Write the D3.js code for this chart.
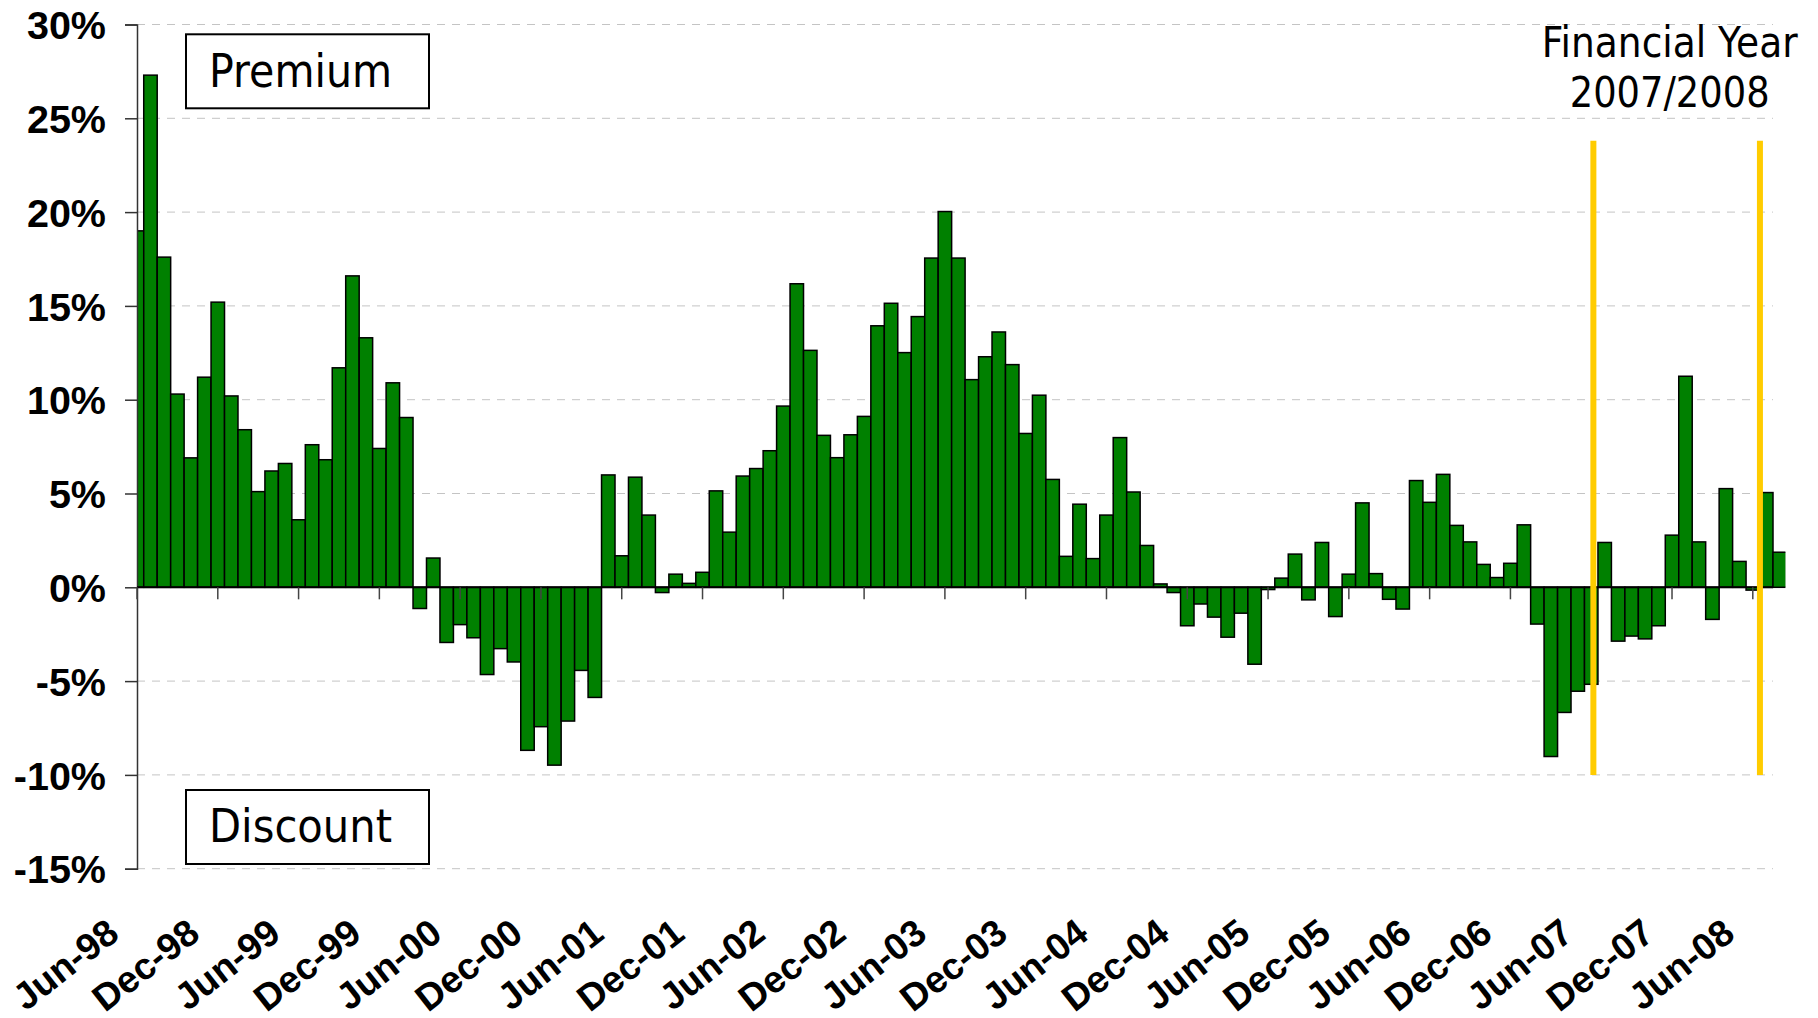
<!DOCTYPE html>
<html>
<head>
<meta charset="utf-8">
<script src="https://cdn.jsdelivr.net/npm/d3@7"></script>
<style>
    body { margin: 0; background: #fff; }
    svg { display: block; }
</style>
</head>
<body>
<div id="chart"></div>
<script>
// monthly premium / discount, starting Jun-98
const values = [
    19.0, 27.3, 17.6, 10.3, 6.9, 11.2, 15.2, 10.2, 8.4, 5.1, 6.2, 6.6,
    3.6, 7.6, 6.8, 11.7, 16.6, 13.3, 7.4, 10.9, 9.05, -1.13, 1.56, -2.94,
    -1.99, -2.69, -4.65, -3.27, -3.98, -8.69, -7.43, -9.48, -7.13, -4.43, -5.87, 5.99,
    1.68, 5.87, 3.85, -0.28, 0.70, 0.21, 0.80, 5.14, 2.94, 5.93, 6.33, 7.28,
    9.66, 16.18, 12.63, 8.10, 6.91, 8.13, 9.11, 13.94, 15.14, 12.51, 14.43, 17.55,
    20.03, 17.55, 11.07, 12.29, 13.61, 11.87, 8.20, 10.24, 5.75, 1.65, 4.43, 1.53,
    3.85, 7.98, 5.08, 2.23, 0.18, -0.28, -2.05, -0.89, -1.59, -2.66, -1.38, -4.10,
    -0.12, 0.49, 1.77, -0.67, 2.39, -1.56, 0.70, 4.50, 0.73, -0.64, -1.16, 5.69,
    4.53, 6.02, 3.30, 2.42, 1.22, 0.52, 1.28, 3.33, -1.96, -9.02, -6.67, -5.54,
    -5.17, 2.39, -2.87, -2.60, -2.75, -2.05, 2.78, 11.25, 2.42, -1.71, 5.26, 1.38,
    -0.15, 5.05, 1.87
];

const tickLabels = ['Jun-98', 'Dec-98', 'Jun-99', 'Dec-99', 'Jun-00', 'Dec-00', 'Jun-01',
    'Dec-01', 'Jun-02', 'Dec-02', 'Jun-03', 'Dec-03', 'Jun-04', 'Dec-04', 'Jun-05',
    'Dec-05', 'Jun-06', 'Dec-06', 'Jun-07', 'Dec-07', 'Jun-08'];
const tickStep = 6; // months between labels

const yTicks = [30, 25, 20, 15, 10, 5, 0, -5, -10, -15];

// financial year 2007/2008 markers (month offset) and their vertical span (%)
const fyMarkers = [108.16, 120.53];
const fyRange = [23.8, -10];
const fyTitle = ['Financial Year', '2007/2008'];

const width = 1818, height = 1018;
const plotLeft = 137, plotRight = 1773, plotTop = 24.5, plotBottom = 868.7;

const svg = d3.select('#chart').append('svg')
    .attr('width', width)
    .attr('height', height);

const x = d3.scaleLinear()
    .domain([0, 121.5])
    .range([plotLeft, plotRight]);

const y = d3.scaleLinear()
    .domain([-15, 30])
    .range([plotBottom, plotTop]);

const step = x(1) - x(0);

// grid
svg.append('g')
    .selectAll('line')
    .data(yTicks.filter(d => d !== 0))
    .enter().append('line')
    .attr('x1', plotLeft)
    .attr('x2', plotRight)
    .attr('y1', d => y(d))
    .attr('y2', d => y(d))
    .attr('stroke', '#c4c4c4')
    .attr('stroke-width', 1)
    .attr('stroke-dasharray', '8,7');

svg.append('clipPath')
    .attr('id', 'plot-clip')
    .append('rect')
    .attr('x', plotLeft)
    .attr('y', 0)
    .attr('width', x(122.42) - plotLeft)
    .attr('height', height);

// bars
svg.append('g')
    .attr('clip-path', 'url(#plot-clip)')
    .selectAll('rect')
    .data(values)
    .enter().append('rect')
    .attr('x', (d, i) => x(i) - step / 2)
    .attr('width', step)
    .attr('y', d => y(Math.max(d, 0)))
    .attr('height', d => Math.abs(y(d) - y(0)))
    .attr('fill', '#008000')
    .attr('stroke', '#000')
    .attr('stroke-width', 1.5);

// y axis
const yAxis = d3.axisLeft(y)
    .tickValues(yTicks)
    .tickSize(12)
    .tickFormat(d => d + '%');

const yg = svg.append('g')
    .attr('transform', 'translate(' + plotLeft + ',0)')
    .call(yAxis);
yg.select('.domain').attr('stroke', '#333').attr('stroke-width', 1.5);
yg.selectAll('.tick line').attr('stroke', '#333').attr('stroke-width', 1.5);
yg.selectAll('.tick text')
    .attr('x', -31)
    .attr('dy', '0.36em')
    .attr('font-family', '"Liberation Sans", Arial, sans-serif')
    .attr('font-weight', 'bold')
    .attr('font-size', 39.5)
    .attr('fill', '#000');

// x axis along zero
svg.append('line')
    .attr('x1', plotLeft)
    .attr('x2', plotRight)
    .attr('y1', y(0))
    .attr('y2', y(0))
    .attr('stroke', '#000')
    .attr('stroke-width', 2);

const xt = svg.append('g')
    .selectAll('g')
    .data(tickLabels)
    .enter().append('g');

xt.append('line')
    .attr('x1', (d, i) => x(i * tickStep))
    .attr('x2', (d, i) => x(i * tickStep))
    .attr('y1', y(0))
    .attr('y2', y(0) + 12)
    .attr('stroke', '#444')
    .attr('stroke-width', 1.5);

xt.append('text')
    .attr('transform', (d, i) => 'translate(' + (x(i * tickStep) - 24) + ',927) rotate(-38)')
    .attr('text-anchor', 'end')
    .attr('dy', '0.35em')
    .attr('font-family', '"Liberation Sans", Arial, sans-serif')
    .attr('font-weight', 'bold')
    .attr('font-size', 37.5)
    .text(d => d);

// financial year markers
svg.append('g')
    .selectAll('line')
    .data(fyMarkers)
    .enter().append('line')
    .attr('x1', d => x(d))
    .attr('x2', d => x(d))
    .attr('y1', y(fyRange[0]))
    .attr('y2', y(fyRange[1]))
    .attr('stroke', '#ffcc00')
    .attr('stroke-width', 6);

// narrow sans (Tahoma-like): squeeze each line horizontally to its width
function squeeze(sel, widthFor) {
    sel.each(function(d, i) {
        const t = d3.select(this);
        const natural = this.getComputedTextLength();
        const k = widthFor(d, i) / natural;
        t.attr('transform', t.attr('data-pos') + ' scale(' + k + ',1)');
    });
}

const fyX = (x(fyMarkers[0]) + x(fyMarkers[1])) / 2 - 7;
svg.append('g')
    .selectAll('text')
    .data(fyTitle)
    .enter().append('text')
    .attr('data-pos', (d, i) => 'translate(' + fyX + ',' + (56.7 + i * 50) + ')')
    .attr('text-anchor', 'middle')
    .attr('font-family', '"DejaVu Sans", Verdana, sans-serif')
    .attr('font-size', 43.5)
    .text(d => d)
    .call(squeeze, (d, i) => i === 0 ? 256 : 200);

// premium / discount boxes
const boxes = [
    {label: 'Premium', y0: 34.3},
    {label: 'Discount', y0: 790}
];

const bx = svg.append('g')
    .selectAll('g')
    .data(boxes)
    .enter().append('g');

bx.append('rect')
    .attr('x', 186)
    .attr('y', d => d.y0)
    .attr('width', 243)
    .attr('height', 74)
    .attr('fill', '#fff')
    .attr('stroke', '#000')
    .attr('stroke-width', 2);

bx.append('text')
    .attr('data-pos', d => 'translate(209,' + (d.y0 + 52.4) + ')')
    .attr('font-family', '"DejaVu Sans", Verdana, sans-serif')
    .attr('font-size', 45.7)
    .text(d => d.label)
    .call(squeeze, () => 183);
</script>
</body>
</html>
